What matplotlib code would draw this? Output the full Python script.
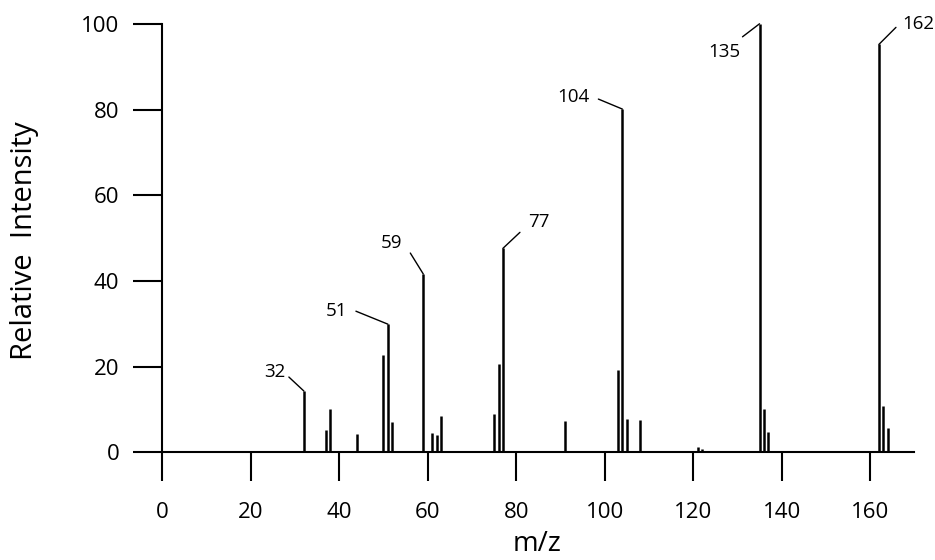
import matplotlib
matplotlib.use('Agg')
import matplotlib.pyplot as plt

# peaks
mz = [32, 37, 38, 44, 50, 51, 52, 59, 61, 62, 63, 75, 76, 77, 91,
      103, 104, 105, 108, 121, 122, 135, 136, 137, 162, 163, 164]
intensity = [14.3, 5.2, 10.1, 4.3, 22.8, 29.9, 7.1, 41.6, 4.6, 4.0, 8.4, 8.9, 20.6, 47.6, 7.3,
             19.1, 80.1, 7.8, 7.5, 1.3, 0.8, 100.0, 10.0, 4.7, 95.2, 10.8, 5.7]
labelled = [32, 51, 59, 77, 104, 135, 162]
xticks = [0, 20, 40, 60, 80, 100, 120, 140, 160]
yticks = [0, 20, 40, 60, 80, 100]

# leader line start and text offset (pixels from peak top)
lead = {32: ((-15, 14), (-29, 19), 'center'),
        51: ((-32, 13), (-51, 13), 'center'),
        59: ((-13, 21), (-32, 31), 'center'),
        77: ((17, 16), (36, 26), 'center'),
        104: ((-24, 10), (-49, 12), 'center'),
        135: ((-17, -13), (-35, -28), 'center'),
        162: ((17, 17), (23, 20), 'left')}

plt.rcParams['font.family'] = ['Open Sans', 'DejaVu Sans']

fig = plt.figure(figsize=(9.35, 5.6), dpi=100)
ax = fig.add_axes([0.1736, 0.1923, 0.8043, 0.7652])
ax.set_xlim(0, 170)
ax.set_ylim(0, 100)

ax.vlines(mz, 0, intensity, color='black', lw=1.8, clip_on=False)

for m, h in zip(mz, intensity):
    if m in labelled:
        s, t, ha = lead[m]
        ax.annotate('', xy=(m, h), xytext=s, textcoords='offset pixels',
                    arrowprops=dict(arrowstyle='-', lw=1, color='black', shrinkA=0, shrinkB=0),
                    annotation_clip=False)
        ax.annotate(str(m), xy=(m, h), xytext=t, textcoords='offset pixels',
                    ha=ha, va='center', fontsize=13.5, annotation_clip=False)

for side in ['top', 'right']:
    ax.spines[side].set_visible(False)
for side in ['left', 'bottom']:
    ax.spines[side].set_linewidth(1.5)

ax.set_xticks(xticks)
ax.set_yticks(yticks)
ax.tick_params(direction='out', length=21, width=1.5, labelsize=16)
ax.tick_params(axis='x', pad=15)
ax.tick_params(axis='y', pad=10)

ax.set_xlabel('m/z', fontsize=20, va='center')
ax.xaxis.set_label_coords(0.498, -0.214)
ax.set_ylabel('Relative  Intensity', fontsize=21, va='center')
ax.yaxis.set_label_coords(-0.183, 0.493)

fig.savefig('out.png', dpi=100)
